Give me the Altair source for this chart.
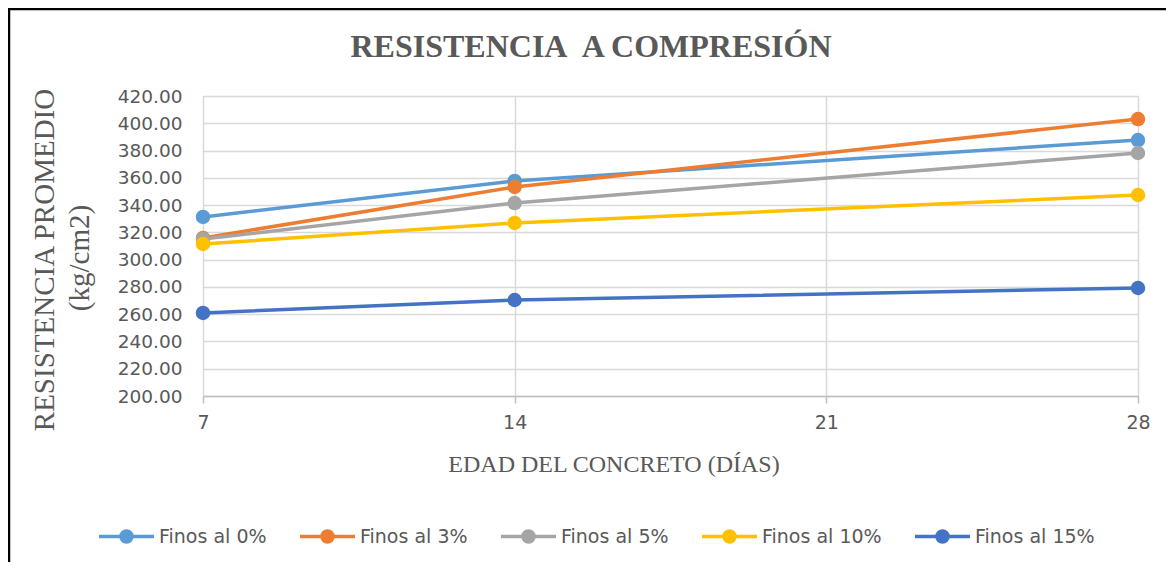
import altair as alt
import pandas as pd

edades = [7, 14, 28]
series = ["Finos al 0%", "Finos al 3%", "Finos al 5%", "Finos al 10%", "Finos al 15%"]
finos_0 = [331.3, 357.7, 387.7]
finos_3 = [315.9, 353.3, 403.1]
finos_5 = [315.1, 341.5, 378.2]
finos_10 = [311.5, 326.9, 347.4]
finos_15 = [260.9, 270.4, 279.2]
colores = ["#5B9BD5", "#ED7D31", "#A5A5A5", "#FFC000", "#4472C4"]
x_ticks = [7, 14, 21, 28]
y_ticks = [200, 220, 240, 260, 280, 300, 320, 340, 360, 380, 400, 420]

titulo = "RESISTENCIA\u00a0 A COMPRESIÓN"
x_titulo = "EDAD DEL CONCRETO (DÍAS)"
y_titulo_1 = "RESISTENCIA PROMEDIO"
y_titulo_2 = "(kg/cm2)"

rows = []
for name, vals in zip(series, [finos_0, finos_3, finos_5, finos_10, finos_15]):
    for e, v in zip(edades, vals):
        rows.append({"serie": name, "edad": e, "valor": v, "orden": series.index(name)})
df = pd.DataFrame(rows)

W, H = 935, 300
PAD_L, PAD_T = 195, 88

color = alt.Color(
    "serie:N",
    scale=alt.Scale(domain=series, range=colores),
    sort=series,
    legend=alt.Legend(
        orient="none", direction="horizontal", legendX=-106, legendY=411,
        title=None,
        symbolType="M-1,0H1M-0.2,0A0.2,0.2,0,1,0,0.2,0A0.2,0.2,0,1,0,-0.2,0Z",
        symbolSize=3025, symbolStrokeWidth=3.5,
        labelFont="DejaVu Sans", labelFontSize=19, labelColor="#595959",
        labelOffset=3, columnPadding=26, padding=0,
    ),
)

x = alt.X(
    "edad:Q",
    scale=alt.Scale(domain=[7, 28], nice=False, zero=False),
    axis=alt.Axis(
        values=x_ticks, title=None, grid=True, gridColor="#d9d9d9", gridWidth=1.5,
        domain=True, domainColor="#bfbfbf", domainWidth=1.5,
        ticks=True, tickColor="#bfbfbf", tickSize=7, tickWidth=1.5,
        labelFont="DejaVu Sans", labelFontSize=19, labelColor="#595959",
        labelPadding=10, labelFlush=False, labelAngle=0,
    ),
)
y = alt.Y(
    "valor:Q",
    scale=alt.Scale(domain=[200, 420], nice=False, zero=False),
    axis=alt.Axis(
        values=y_ticks, format=".2f", title=None, grid=True, gridColor="#d9d9d9",
        gridWidth=1.5, domain=False, ticks=False,
        labelFont="DejaVu Sans", labelFontSize=18.5, labelColor="#595959",
        labelPadding=21,
    ),
)

lines = alt.Chart(df).mark_line(
    strokeWidth=3.5,
    point=alt.OverlayMarkDef(filled=True, size=210, opacity=1),
).encode(x=x, y=y, color=color, order="orden:Q", detail="serie:N")

title_mark = alt.Chart(pd.DataFrame({"t": [titulo]})).mark_text(
    font="Liberation Serif", fontSize=32, fontWeight="bold", color="#595959",
    align="center", baseline="middle",
).encode(text="t:N", x=alt.value(388), y=alt.value(-49))

xt_mark = alt.Chart(pd.DataFrame({"t": [x_titulo]})).mark_text(
    font="Liberation Serif", fontSize=24, color="#595959",
    align="center", baseline="middle",
).encode(text="t:N", x=alt.value(411), y=alt.value(369))

yt1 = alt.Chart(pd.DataFrame({"t": [y_titulo_1]})).mark_text(
    font="Liberation Serif", fontSize=29, color="#595959",
    align="center", baseline="middle", angle=270,
).encode(text="t:N", x=alt.value(-158), y=alt.value(164))

yt2 = alt.Chart(pd.DataFrame({"t": [y_titulo_2]})).mark_text(
    font="Liberation Serif", fontSize=29, color="#595959",
    align="center", baseline="middle", angle=270,
).encode(text="t:N", x=alt.value(-123), y=alt.value(162))

border_v = alt.Chart(pd.DataFrame({"a": [0]})).mark_rule(
    color="black", strokeWidth=2.5
).encode(x=alt.value(-194), y=alt.value(-88), y2=alt.value(480))
border_h = alt.Chart(pd.DataFrame({"a": [0]})).mark_rule(
    color="black", strokeWidth=2.5
).encode(x=alt.value(-195), x2=alt.value(980), y=alt.value(-87))

chart = alt.layer(
    lines, title_mark, xt_mark, yt1, yt2, border_v, border_h
).properties(
    width=W, height=H,
    autosize=alt.AutoSizeParams(type="none"),
    padding={"left": PAD_L, "top": PAD_T, "right": 28, "bottom": 166},
).configure_view(stroke=None).configure(background="white")

chart.save("out.html", embed_options={"renderer": "svg", "actions": False})
